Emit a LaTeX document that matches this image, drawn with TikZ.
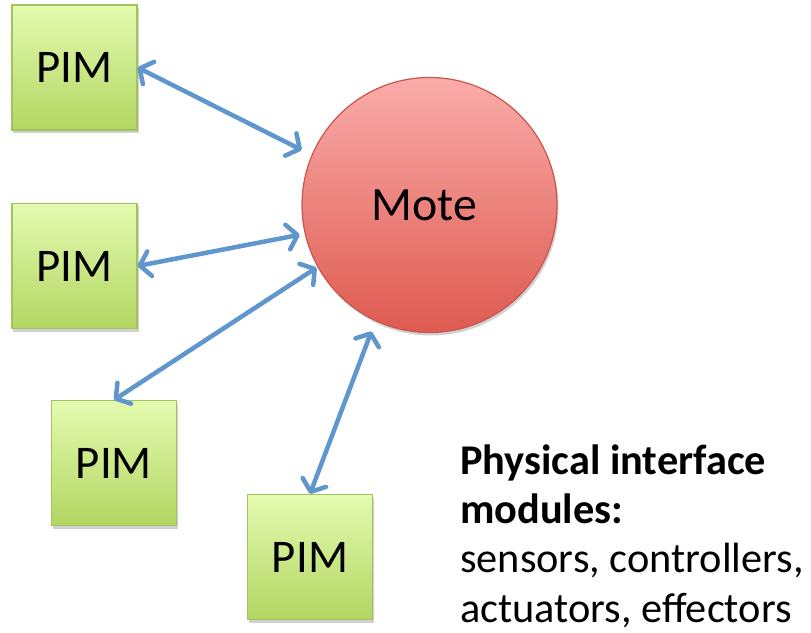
\documentclass[tikz,border=0pt]{standalone}
\usepackage{fontspec}
\setmainfont{Carlito}
\usetikzlibrary{arrows.meta,shadows}
\definecolor{pimtop}{RGB}{228,251,176}
\definecolor{pimbot}{RGB}{178,214,98}
\definecolor{pimedge}{RGB}{160,195,95}
\definecolor{motetop}{RGB}{250,172,170}
\definecolor{motebot}{RGB}{222,90,80}
\definecolor{moteedge}{RGB}{200,85,78}
\definecolor{arrblue}{RGB}{95,150,205}
\tikzset{
  pim/.style={draw=pimedge, line width=1.2bp, top color=pimtop, bottom color=pimbot,
    minimum width=125bp, minimum height=125bp, inner sep=0pt,
    font=\fontsize{47}{56}\selectfont,
    drop shadow={shadow xshift=1.5bp, shadow yshift=-3bp, opacity=0.3, fill=black!60}},
  motebox/.style={circle, draw=moteedge, line width=1.2bp, top color=motetop, bottom color=motebot,
    minimum size=255bp, inner sep=0pt, font=\fontsize{48}{56}\selectfont,
    drop shadow={shadow xshift=1.5bp, shadow yshift=-3bp, opacity=0.3, fill=black!60}},
  link/.style={draw=arrblue, line width=4.5bp, line cap=round,
    {Straight Barb[length=10bp,width=25bp,round]}-{Straight Barb[length=10bp,width=25bp,round]}},
}
\begin{document}
\begin{tikzpicture}[x=1bp,y=-1bp]
\useasboundingbox (0,0) rectangle (811,633);
\node[pim] (p1) at (74.5,67.5) {PIM};
\node[pim] (p2) at (74.5,266) {PIM};
\node[pim] (p3) at (114,463) {PIM};
\node[pim] (p4) at (310,557) {PIM};
\node[motebox] (mote) at (429.5,205) {\raisebox{-4bp}{\hspace*{-10bp}Mote}};
\draw[link, shorten >=11bp] (p1.east) -- (mote.157.8);
\draw[link, shorten >=5bp] (p2.east) -- (mote.193.5);
\draw[link, shorten >=1bp] (p3.north) -- (mote.209.5);
\draw[link, shorten >=11bp] (p4.north) -- (mote.245.6);
\node[anchor=base west, align=left, font=\fontsize{42.5}{49.3}\selectfont, inner sep=0pt] (txt) at (460,622)
  {\textbf{Physical interface}\\ \textbf{modules:}\\ sensors, controllers,\\ actuators, effectors};
\end{tikzpicture}
\end{document}
